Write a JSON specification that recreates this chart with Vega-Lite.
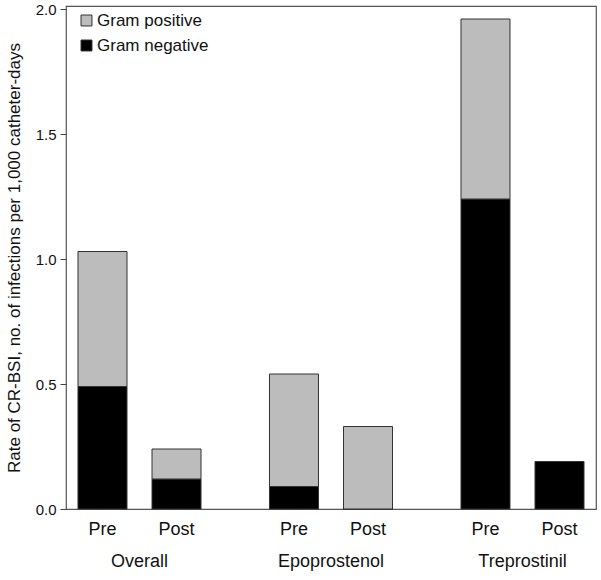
{
  "$schema": "https://vega.github.io/schema/vega-lite/v6.json",
  "width": 530,
  "height": 503,
  "autosize": {"type": "none"},
  "padding": {"left": 66, "top": 6, "right": 5, "bottom": 71},
  "config": {
    "font": "Liberation Sans",
    "view": {"stroke": "#555", "strokeWidth": 1.2}
  },
  "data": {
    "values": [
      {"group": "Overall", "period": "Pre", "type": "Gram negative", "rate": 0.49},
      {"group": "Overall", "period": "Pre", "type": "Gram positive", "rate": 0.54},
      {"group": "Overall", "period": "Post", "type": "Gram negative", "rate": 0.12},
      {"group": "Overall", "period": "Post", "type": "Gram positive", "rate": 0.12},
      {"group": "Epoprostenol", "period": "Pre", "type": "Gram negative", "rate": 0.09},
      {"group": "Epoprostenol", "period": "Pre", "type": "Gram positive", "rate": 0.45},
      {"group": "Epoprostenol", "period": "Post", "type": "Gram negative", "rate": 0.0},
      {"group": "Epoprostenol", "period": "Post", "type": "Gram positive", "rate": 0.33},
      {"group": "Treprostinil", "period": "Pre", "type": "Gram negative", "rate": 1.24},
      {"group": "Treprostinil", "period": "Pre", "type": "Gram positive", "rate": 0.72},
      {"group": "Treprostinil", "period": "Post", "type": "Gram negative", "rate": 0.19},
      {"group": "Treprostinil", "period": "Post", "type": "Gram positive", "rate": 0.0}
    ]
  },
  "encoding": {
    "x": {
      "field": "group",
      "type": "nominal",
      "sort": ["Overall", "Epoprostenol", "Treprostinil"],
      "scale": {"paddingInner": 0.2324, "paddingOuter": 0},
      "axis": {
        "title": null,
        "domain": false,
        "ticks": false,
        "labelAngle": 0,
        "labelPadding": 43,
        "labelFontSize": 18,
        "labelColor": "#111"
      }
    },
    "xOffset": {
      "field": "period",
      "type": "nominal",
      "sort": ["Pre", "Post"],
      "scale": {"paddingInner": 0.338, "paddingOuter": 0.162}
    }
  },
  "layer": [
    {
      "mark": {"type": "bar", "stroke": "#333", "strokeWidth": 1},
      "encoding": {
        "y": {
          "field": "rate",
          "type": "quantitative",
          "stack": "zero",
          "scale": {"domain": [0, 2.012], "nice": false},
          "axis": {
            "title": "Rate of CR-BSI, no. of infections per 1,000 catheter-days",
            "titleFontSize": 17,
            "titleFontWeight": "normal",
            "titleColor": "#111",
            "titlePadding": 12,
            "values": [0, 0.5, 1, 1.5, 2],
            "format": ".1f",
            "grid": false,
            "domain": false,
            "tickSize": 6,
            "tickColor": "#444",
            "labelFontSize": 15,
            "labelColor": "#111",
            "labelPadding": 4
          }
        },
        "order": {"field": "type", "sort": "ascending"},
        "color": {
          "field": "type",
          "type": "nominal",
          "scale": {"domain": ["Gram positive", "Gram negative"], "range": ["#bcbcbc", "#000000"]},
          "legend": {
            "title": null,
            "orient": "none",
            "legendX": 12,
            "legendY": 6,
            "symbolType": "square",
            "symbolSize": 120,
            "symbolStrokeColor": "#333",
            "symbolStrokeWidth": 1,
            "labelFontSize": 17,
            "labelColor": "#111",
            "labelOffset": 2,
            "rowPadding": 7
          }
        }
      }
    },
    {
      "transform": [{"filter": "datum.type == 'Gram negative'"}],
      "mark": {"type": "text", "baseline": "middle", "dy": 21, "fontSize": 18, "color": "#111"},
      "encoding": {
        "y": {"datum": 0, "type": "quantitative"},
        "text": {"field": "period"}
      }
    }
  ]
}
